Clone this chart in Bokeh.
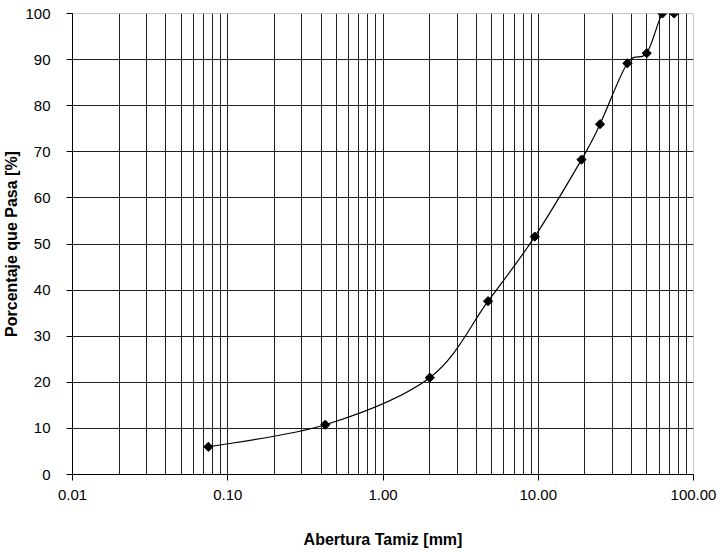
import numpy as np
from bokeh.plotting import figure
from bokeh.models import FixedTicker, PrintfTickFormatter, Range1d, ColumnDataSource
from bokeh.embed import file_html
from bokeh.resources import INLINE

# Sieve opening [mm] and percent passing
abertura = [0.075, 0.425, 2.0, 4.75, 9.5, 19.0, 25.0, 37.5, 50.0, 63.0, 75.0]
pasa = [6.0, 10.8, 21.0, 37.6, 51.6, 68.3, 76.0, 89.2, 91.4, 100.0, 100.0]

x_ticks = [0.01, 0.1, 1, 10, 100]
y_ticks = [0, 10, 20, 30, 40, 50, 60, 70, 80, 90, 100]

FONT = "Liberation Sans"

p = figure(width=720, height=552, x_axis_type="log", output_backend="svg",
           toolbar_location=None, x_range=Range1d(0.01, 100), y_range=Range1d(0, 100),
           min_border_left=60, min_border_right=36, min_border_top=13, min_border_bottom=78)
p.frame_width = 621
p.frame_height = 461

p.outline_line_color = "#c8c8c8"
p.outline_line_width = 1

grid_x = [m * 10.0 ** e for e in range(-2, 2) for m in range(1, 10)] + [100]
p.xgrid[0].ticker = FixedTicker(ticks=grid_x)
p.xgrid.grid_line_color = "#202020"
p.xgrid.grid_line_width = 1
p.ygrid[0].ticker = FixedTicker(ticks=y_ticks)
p.ygrid.grid_line_color = "#202020"
p.ygrid.grid_line_width = 1

p.xaxis.ticker = FixedTicker(ticks=x_ticks)
p.xaxis.formatter = PrintfTickFormatter(format="%.2f")
p.yaxis.ticker = FixedTicker(ticks=y_ticks)
for ax in (p.xaxis, p.yaxis):
    ax.axis_line_color = "black"
    ax.major_tick_line_color = "black"
    ax.major_tick_out = 6
    ax.major_tick_in = 0
    ax.minor_tick_line_color = None
    ax.major_label_text_font = FONT
    ax.major_label_text_font_size = "15px"
    ax.major_label_text_color = "black"
    ax.axis_label_text_font = FONT
    ax.axis_label_text_font_style = "bold"
    ax.axis_label_text_font_size = "16px"
    ax.axis_label_text_color = "black"

p.xaxis.axis_label = "Abertura Tamiz [mm]"
p.xaxis.axis_label_standoff = 28
p.xaxis.major_label_standoff = 9
p.yaxis.axis_label = "Porcentaje que Pasa [%]"
p.yaxis.axis_label_standoff = 2
p.yaxis.major_label_standoff = 16

# Smoothed curve (Catmull-Rom style bezier, computed in log-x space)
lx = np.log10(np.array(abertura))
yy = np.array(pasa)
n = len(lx)
x0s, y0s, x1s, y1s, cx0, cy0, cx1, cy1 = [], [], [], [], [], [], [], []
for i in range(n - 1):
    pm = i - 1 if i > 0 else i
    pp = i + 2 if i + 2 < n else i + 1
    c0x = lx[i] + (lx[i + 1] - lx[pm]) / 6.0
    c0y = yy[i] + (yy[i + 1] - yy[pm]) / 6.0
    c1x = lx[i + 1] - (lx[pp] - lx[i]) / 6.0
    c1y = yy[i + 1] - (yy[pp] - yy[i]) / 6.0
    x0s.append(10 ** lx[i]); y0s.append(yy[i])
    x1s.append(10 ** lx[i + 1]); y1s.append(yy[i + 1])
    cx0.append(10 ** c0x); cy0.append(c0y)
    cx1.append(10 ** c1x); cy1.append(c1y)
p.bezier(x0=x0s, y0=y0s, x1=x1s, y1=y1s, cx0=cx0, cy0=cy0, cx1=cx1, cy1=cy1,
         line_color="black", line_width=1.2)

src = ColumnDataSource(dict(x=abertura, y=pasa))
p.scatter("x", "y", source=src, marker="square", angle=np.pi / 4, size=6.5,
          fill_color="black", line_color="black")

open("out.html", "w").write(file_html(p, INLINE))
